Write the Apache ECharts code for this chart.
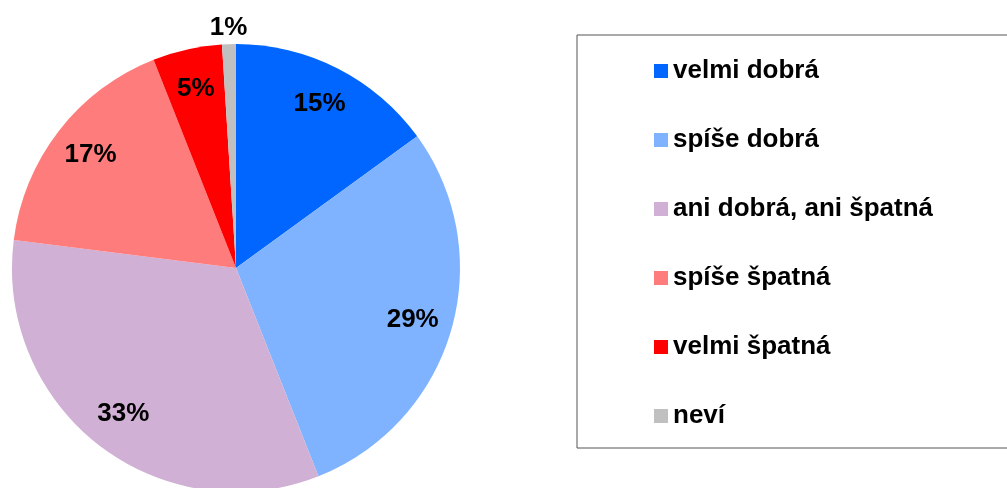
<!DOCTYPE html>
<html>
<head>
<meta charset="utf-8">
<script src="https://cdn.jsdelivr.net/npm/echarts@6/dist/echarts.min.js"></script>
<style>html,body{margin:0;padding:0;background:#fff;}#c{width:1007px;height:488px;}</style>
</head>
<body>
<div id="c"></div>
<script>
const categories = ['velmi dobrá', 'spíše dobrá', 'ani dobrá, ani špatná', 'spíše špatná', 'velmi špatná', 'neví'];
const values = [15, 29, 33, 17, 5, 1];
const colors = ['#0066FF', '#80B3FF', '#D0B0D4', '#FF7C7C', '#FF0000', '#C0C0C0'];
const outsideLabel = [false, false, false, false, false, true];

const font = '"Liberation Sans", Arial, sans-serif';
const labelStyle = { color: '#000', fontSize: 26, fontWeight: 'bold', fontFamily: font };

const chart = echarts.init(document.getElementById('c'), null, { renderer: 'canvas' });
const center = [236, 268];

chart.setOption({
  animation: false,
  backgroundColor: '#fff',
  legend: {
    orient: 'vertical',
    left: 577,
    top: 35,
    padding: [23, 100, 19, 77],
    borderColor: '#555',
    borderWidth: 1,
    itemWidth: 14,
    itemHeight: 14,
    itemGap: 43,
    icon: 'rect',
    selectedMode: false,
    textStyle: { color: '#000', fontSize: 26, fontWeight: 'bold', fontFamily: font, lineHeight: 26 },
    data: categories.map((n, i) => ({ name: n, itemStyle: { color: colors[i] } }))
  },
  series: [
    {
      type: 'pie',
      center: center,
      radius: [0, 224],
      startAngle: 90,
      clockwise: true,
      label: { show: false },
      labelLine: { show: false },
      itemStyle: { borderWidth: 0 },
      emphasis: { disabled: true },
      data: categories.map((n, i) => ({ name: n, value: values[i], itemStyle: { color: colors[i] } }))
    },
    {
      type: 'pie',
      center: center,
      radius: [0, 362],
      startAngle: 90,
      silent: true,
      avoidLabelOverlap: false,
      itemStyle: { color: 'rgba(0,0,0,0)', borderWidth: 0 },
      emphasis: { disabled: true },
      label: Object.assign({ show: true, position: 'inside', formatter: '{c}%' }, labelStyle),
      labelLine: { show: false },
      data: categories.map((n, i) => ({ name: n, value: values[i], label: { show: !outsideLabel[i] } }))
    },
    {
      type: 'pie',
      center: center,
      radius: [0, 474],
      startAngle: 90,
      silent: true,
      avoidLabelOverlap: false,
      itemStyle: { color: 'rgba(0,0,0,0)', borderWidth: 0 },
      emphasis: { disabled: true },
      label: Object.assign({ show: true, position: 'inside', formatter: '{c}%' }, labelStyle),
      labelLine: { show: false },
      data: categories.map((n, i) => ({ name: n, value: values[i], label: { show: outsideLabel[i] } }))
    }
  ]
});
</script>
</body>
</html>
